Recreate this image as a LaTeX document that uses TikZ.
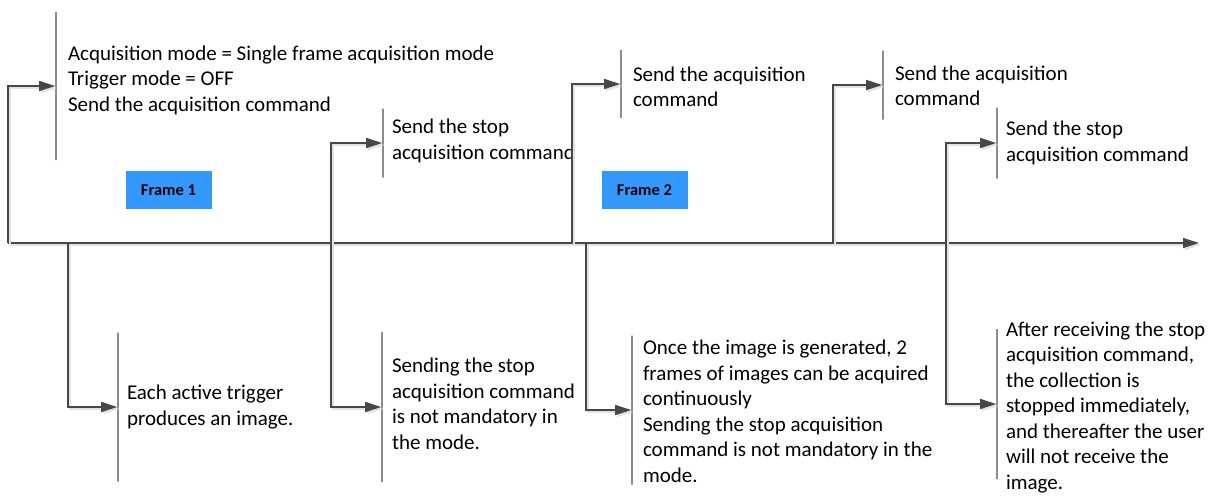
\documentclass[tikz,border=0pt]{standalone}
\usepackage{fontspec}
\setmainfont{Carlito}
\usetikzlibrary{arrows.meta,positioning}
\definecolor{linegray}{HTML}{474747}
\definecolor{bargray}{HTML}{8C8C8C}
\definecolor{shadowgray}{HTML}{E3E3E3}
\definecolor{framefill}{HTML}{3399FF}

\begin{document}
\begin{tikzpicture}[x=1pt,y=-1pt,>={Triangle[length=16pt,width=10pt]},
  conn/.style={draw=linegray,line width=1.3pt,->,
    preaction={draw=shadowgray,line width=1.3pt,transform canvas={shift={(2pt,-2pt)}}}},
  tbar/.style={draw=bargray,line width=1.6pt,inner sep=0pt,minimum width=0pt,minimum height=#1},
  note/.style={align=left,inner sep=0pt,font=\fontsize{21}{25.5}\selectfont},
  framebox/.style={fill=framefill,minimum width=86pt,minimum height=38pt,inner sep=0pt,
    font=\fontsize{16.5}{20}\selectfont\bfseries}]
  \useasboundingbox (0,0) rectangle (1224,496);

  % time axis and the points where the events start
  \coordinate (ax0) at (8,243);
  \coordinate (axend) at (1199,243);
  \coordinate (tapstopA) at (331,243);
  \coordinate (tapsendB) at (572,243);
  \coordinate (tapsendC) at (833,243);
  \coordinate (tapstopB) at (946,243);
  \coordinate (tapimgA) at (68,243);
  \coordinate (tapimgB) at (586,243);

  % bars in front of the notes
  \node[tbar=148] (barstart) at (56,86) {};
  \node[tbar=69]  (barstopA) at (383,143) {};
  \node[tbar=68]  (barsendB) at (621,84) {};
  \node[tbar=69]  (barsendC) at (883,85) {};
  \node[tbar=71]  (barstopB) at (997,143) {};
  \node[tbar=149] (barimgA) at (118,407) {};
  \node[tbar=150] (barnotreqA) at (382,407) {};
  \node[tbar=149] (barimgB) at (632,410) {};
  \node[tbar=150] (barafter) at (997,404) {};

  % notes above the axis
  \node[note,right=11pt of barstart,yshift=6pt] (start)
    {Acquisition mode = Single frame acquisition mode\\Trigger mode = OFF\\Send the acquisition command};
  \node[note,right=8pt of barstopA,yshift=2pt] (stopA) {Send the stop\\acquisition command};
  \node[note,right=11pt of barsendB,yshift=-3pt] (sendB) {Send the acquisition\\command};
  \node[note,right=11pt of barsendC,yshift=-1pt] (sendC) {Send the acquisition\\command};
  \node[note,right=8pt of barstopB] (stopB) {Send the stop\\acquisition command};

  % notes below the axis
  \node[note,right=8pt of barimgA] (imgA) {Each active trigger\\produces an image.};
  \node[note,right=9pt of barnotreqA,yshift=3pt] (notreqA)
    {Sending the stop\\acquisition command\\is not mandatory in\\the mode.};
  \node[note,right=10pt of barimgB,yshift=-1.5pt] (imgB)
    {Once the image is generated, 2\\frames of images can be acquired\\continuously\\Sending the stop acquisition\\command is not mandatory in the\\mode.};
  \node[note,right=8pt of barafter,yshift=-3.5pt] (after)
    {After receiving the stop\\acquisition command,\\the collection is\\stopped immediately,\\and thereafter the user\\will not receive the\\image.};

  % frames
  \node[framebox] (frame1) at (168.5,190) {Frame 1};
  \node[framebox] (frame2) at (644.5,190) {Frame 2};

  % connectors
  \draw[conn] (ax0) -- (axend);
  \draw[conn] (ax0) |- (barstart.west);
  \draw[conn] (tapstopA) |- (barstopA.west);
  \draw[conn] (tapsendB) |- (barsendB.west);
  \draw[conn] (tapsendC) |- (barsendC.west);
  \draw[conn] (tapstopB) |- (barstopB.west);
  \draw[conn] (tapimgA) |- (barimgA.west);
  \draw[conn] (tapstopA) |- (barnotreqA.west);
  \draw[conn] (tapimgB) |- (barimgB.west);
  \draw[conn] (tapstopB) |- (barafter.west);
\end{tikzpicture}
\end{document}
